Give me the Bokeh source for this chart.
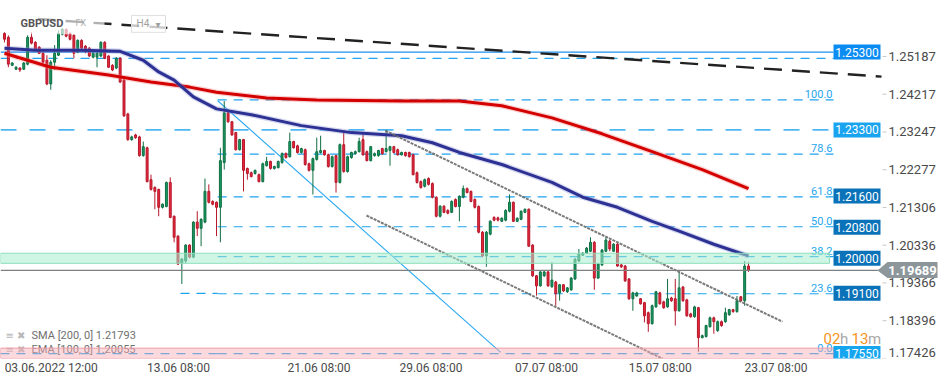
import numpy as np
from bokeh.plotting import figure
from bokeh.models import Range1d, FixedTicker
from bokeh.core.properties import value
from bokeh.embed import file_html
from bokeh.resources import INLINE

# ---------------- data (GBPUSD, H4) ----------------
opens = [1.2578, 1.2568, 1.2496, 1.2486, 1.2489, 1.2486, 1.2499, 1.2568, 1.2555, 1.2543,
         1.2527, 1.2509, 1.2448, 1.2504, 1.2522, 1.2576, 1.2588, 1.2578, 1.2573, 1.2530,
         1.2560, 1.2545, 1.2540, 1.2517, 1.2517, 1.2520, 1.2555, 1.2520, 1.2496, 1.2489,
         1.2514, 1.2458, 1.2371, 1.2305, 1.2317, 1.2312, 1.2264, 1.2284, 1.2202, 1.2182,
         1.2177, 1.2131, 1.2133, 1.2195, 1.2108, 1.2057, 1.1988, 1.1993, 1.2034, 1.2003,
         1.2093, 1.2077, 1.2093, 1.2172, 1.2146, 1.2144, 1.2131, 1.2246, 1.2374, 1.2351,
         1.2323, 1.2279, 1.2305, 1.2231, 1.2220, 1.2218, 1.2215, 1.2197, 1.2238, 1.2249,
         1.2231, 1.2233, 1.2246, 1.2269, 1.2261, 1.2300, 1.2289, 1.2272, 1.2279, 1.2243,
         1.2226, 1.2254, 1.2272, 1.2277, 1.2266, 1.2236, 1.2264, 1.2195, 1.2292, 1.2223,
         1.2259, 1.2269, 1.2274, 1.2305, 1.2274, 1.2251, 1.2264, 1.2264, 1.2282, 1.2274,
         1.2277, 1.2287, 1.2279, 1.2266, 1.2272, 1.2272, 1.2266, 1.2220, 1.2197, 1.2185,
         1.2205, 1.2192, 1.2157, 1.2108, 1.2134, 1.2123, 1.2118, 1.2151, 1.2133, 1.2157,
         1.2179, 1.2172, 1.2151, 1.2133, 1.2067, 1.2006, 1.2062, 1.2105, 1.2104, 1.2095,
         1.2098, 1.2121, 1.2144, 1.2095, 1.2100, 1.2118, 1.2126, 1.2034, 1.1955, 1.1929,
         1.1955, 1.1965, 1.1927, 1.1939, 1.1911, 1.1932, 1.1914, 1.1919, 1.1947, 1.1993,
         1.2008, 1.2013, 1.2018, 1.2041, 1.1949, 1.1983, 1.2018, 1.2044, 1.2018, 1.2036,
         1.1983, 1.1980, 1.1947, 1.1896, 1.1903, 1.1896, 1.1886, 1.1860, 1.1832, 1.1875,
         1.1911, 1.1888, 1.1875, 1.1898, 1.1896, 1.1865, 1.1926, 1.1893, 1.1857, 1.1850,
         1.1873, 1.1796, 1.1799, 1.1824, 1.1847, 1.1814, 1.1837, 1.1837, 1.1855, 1.1868,
         1.1863, 1.1901, 1.1891, 1.1980]
highs = [1.2581, 1.2573, 1.2504, 1.2494, 1.2491, 1.2504, 1.2573, 1.2581, 1.2558, 1.2545,
         1.2530, 1.2522, 1.2509, 1.2548, 1.2586, 1.2591, 1.2591, 1.2581, 1.2576, 1.2563,
         1.2563, 1.2548, 1.2543, 1.2530, 1.2530, 1.2558, 1.2558, 1.2522, 1.2499, 1.2517,
         1.2517, 1.2461, 1.2374, 1.2315, 1.2320, 1.2315, 1.2300, 1.2287, 1.2215, 1.2185,
         1.2179, 1.2141, 1.2197, 1.2208, 1.2110, 1.2059, 1.2000, 1.2036, 1.2036, 1.2095,
         1.2121, 1.2103, 1.2205, 1.2190, 1.2149, 1.2146, 1.2284, 1.2404, 1.2376, 1.2353,
         1.2325, 1.2307, 1.2307, 1.2233, 1.2223, 1.2228, 1.2218, 1.2246, 1.2261, 1.2251,
         1.2238, 1.2251, 1.2272, 1.2272, 1.2323, 1.2302, 1.2292, 1.2284, 1.2282, 1.2246,
         1.2259, 1.2310, 1.2315, 1.2279, 1.2269, 1.2264, 1.2266, 1.2295, 1.2325, 1.2264,
         1.2274, 1.2277, 1.2310, 1.2323, 1.2277, 1.2289, 1.2272, 1.2279, 1.2284, 1.2330,
         1.2289, 1.2289, 1.2282, 1.2274, 1.2274, 1.2274, 1.2269, 1.2223, 1.2200, 1.2205,
         1.2208, 1.2195, 1.2159, 1.2136, 1.2136, 1.2126, 1.2149, 1.2154, 1.2162, 1.2187,
         1.2182, 1.2174, 1.2154, 1.2136, 1.2070, 1.2070, 1.2098, 1.2108, 1.2107, 1.2105,
         1.2126, 1.2164, 1.2146, 1.2105, 1.2123, 1.2128, 1.2128, 1.2036, 1.1957, 1.1967,
         1.1967, 1.1967, 1.1990, 1.1942, 1.1934, 1.1934, 1.1926, 1.1952, 1.2000, 1.2024,
         1.2016, 1.2029, 1.2054, 1.2044, 1.1988, 1.2024, 1.2054, 1.2047, 1.2039, 1.2039,
         1.1985, 1.1983, 1.1949, 1.1914, 1.1914, 1.1898, 1.1888, 1.1863, 1.1881, 1.1916,
         1.1914, 1.1891, 1.1947, 1.1901, 1.1947, 1.1965, 1.1929, 1.1896, 1.1860, 1.1878,
         1.1875, 1.1804, 1.1829, 1.1850, 1.1850, 1.1840, 1.1840, 1.1873, 1.1870, 1.1870,
         1.1903, 1.1903, 1.1993, 1.1990]
lows = [1.2555, 1.2491, 1.2494, 1.2484, 1.2479, 1.2484, 1.2496, 1.2550, 1.2535, 1.2525,
        1.2502, 1.2445, 1.2433, 1.2484, 1.2520, 1.2573, 1.2568, 1.2560, 1.2514, 1.2527,
        1.2537, 1.2527, 1.2517, 1.2514, 1.2491, 1.2517, 1.2512, 1.2489, 1.2481, 1.2486,
        1.2451, 1.2364, 1.2302, 1.2302, 1.2307, 1.2261, 1.2261, 1.2195, 1.2174, 1.2126,
        1.2108, 1.2128, 1.2131, 1.2103, 1.2041, 1.1983, 1.1934, 1.1988, 1.2000, 1.2000,
        1.2057, 1.2031, 1.2090, 1.2141, 1.2136, 1.2057, 1.2041, 1.2228, 1.2348, 1.2315,
        1.2277, 1.2277, 1.2172, 1.2202, 1.2208, 1.2215, 1.2195, 1.2195, 1.2236, 1.2228,
        1.2228, 1.2231, 1.2243, 1.2256, 1.2259, 1.2282, 1.2269, 1.2269, 1.2238, 1.2223,
        1.2164, 1.2251, 1.2269, 1.2264, 1.2233, 1.2233, 1.2169, 1.2192, 1.2220, 1.2220,
        1.2256, 1.2266, 1.2272, 1.2264, 1.2249, 1.2249, 1.2261, 1.2261, 1.2266, 1.2272,
        1.2238, 1.2269, 1.2264, 1.2264, 1.2261, 1.2259, 1.2213, 1.2192, 1.2179, 1.2182,
        1.2187, 1.2154, 1.2105, 1.2105, 1.2116, 1.2113, 1.2116, 1.2131, 1.2095, 1.2154,
        1.2167, 1.2144, 1.2128, 1.2064, 1.2003, 1.1978, 1.2059, 1.2095, 1.2095, 1.2093,
        1.2095, 1.2118, 1.2093, 1.2093, 1.2098, 1.2116, 1.2029, 1.1952, 1.1904, 1.1927,
        1.1952, 1.1927, 1.1924, 1.1878, 1.1891, 1.1914, 1.1911, 1.1916, 1.1944, 1.1990,
        1.2006, 1.2011, 1.2016, 1.1919, 1.1947, 1.1980, 1.2016, 1.2018, 1.2016, 1.1978,
        1.1975, 1.1939, 1.1893, 1.1865, 1.1901, 1.1881, 1.1835, 1.1811, 1.1829, 1.1873,
        1.1881, 1.1870, 1.1873, 1.1888, 1.1827, 1.1863, 1.1888, 1.1850, 1.1847, 1.1847,
        1.1760, 1.1794, 1.1796, 1.1822, 1.1806, 1.1811, 1.1824, 1.1834, 1.1852, 1.1860,
        1.1860, 1.1888, 1.1878, 1.1965]
closes = [1.2563, 1.2499, 1.2502, 1.2491, 1.2484, 1.2502, 1.2568, 1.2553, 1.2537, 1.2527,
          1.2504, 1.2448, 1.2504, 1.2527, 1.2578, 1.2589, 1.2571, 1.2563, 1.2527, 1.2560,
          1.2540, 1.2532, 1.2520, 1.2527, 1.2527, 1.2555, 1.2514, 1.2491, 1.2484, 1.2514,
          1.2453, 1.2366, 1.2305, 1.2312, 1.2310, 1.2264, 1.2287, 1.2197, 1.2177, 1.2172,
          1.2131, 1.2139, 1.2195, 1.2105, 1.2054, 1.1985, 1.1998, 1.2034, 1.2003, 1.2093,
          1.2077, 1.2100, 1.2172, 1.2144, 1.2139, 1.2131, 1.2251, 1.2374, 1.2351, 1.2317,
          1.2279, 1.2305, 1.2226, 1.2218, 1.2210, 1.2226, 1.2197, 1.2243, 1.2249, 1.2231,
          1.2236, 1.2249, 1.2269, 1.2259, 1.2300, 1.2284, 1.2272, 1.2282, 1.2241, 1.2226,
          1.2256, 1.2274, 1.2277, 1.2266, 1.2236, 1.2261, 1.2195, 1.2292, 1.2223, 1.2261,
          1.2272, 1.2274, 1.2300, 1.2266, 1.2251, 1.2287, 1.2269, 1.2277, 1.2269, 1.2282,
          1.2287, 1.2272, 1.2266, 1.2272, 1.2264, 1.2261, 1.2215, 1.2195, 1.2182, 1.2202,
          1.2190, 1.2157, 1.2108, 1.2134, 1.2118, 1.2116, 1.2146, 1.2133, 1.2159, 1.2179,
          1.2169, 1.2146, 1.2131, 1.2067, 1.2006, 1.2067, 1.2095, 1.2098, 1.2098, 1.2103,
          1.2123, 1.2144, 1.2095, 1.2103, 1.2121, 1.2126, 1.2031, 1.1955, 1.1929, 1.1965,
          1.1965, 1.1929, 1.1944, 1.1909, 1.1932, 1.1916, 1.1924, 1.1949, 1.1998, 1.2011,
          1.2013, 1.2026, 1.2041, 1.1949, 1.1985, 1.2021, 1.2047, 1.2024, 1.2036, 1.1980,
          1.1978, 1.1942, 1.1896, 1.1911, 1.1911, 1.1883, 1.1852, 1.1832, 1.1878, 1.1914,
          1.1883, 1.1873, 1.1896, 1.1891, 1.1865, 1.1924, 1.1891, 1.1852, 1.1850, 1.1875,
          1.1796, 1.1801, 1.1827, 1.1847, 1.1837, 1.1837, 1.1827, 1.1860, 1.1868, 1.1863,
          1.1891, 1.1891, 1.1980, 1.1969]

sma_bars = [0, 6, 12, 27, 38, 48, 55, 68, 81, 103, 118, 129, 142, 155, 168, 181, 193]
sma_vals = [1.2527, 1.2509, 1.2491, 1.2471, 1.2453, 1.2440, 1.2427, 1.2412, 1.2407, 1.2404,
            1.2404, 1.2392, 1.2361, 1.2320, 1.2274, 1.2228, 1.2179]
ema_bars = [0, 8, 20, 30, 36, 40, 44, 49, 55, 64, 77, 90, 103, 111, 118, 129, 142, 150,
            159, 168, 175, 184, 193]
ema_vals = [1.2540, 1.2535, 1.2535, 1.2532, 1.2509, 1.2479, 1.2458, 1.2415, 1.2384, 1.2369,
            1.2341, 1.2323, 1.2315, 1.2297, 1.2272, 1.2241, 1.2195, 1.2157, 1.2131, 1.2095,
            1.2070, 1.2036, 1.2006]

key_levels = [1.2530, 1.2330, 1.2160, 1.2080, 1.2000, 1.1910, 1.1755]
key_labels = ["1.25300", "1.23300", "1.21600", "1.20800", "1.20000", "1.19100", "1.17550"]
extra_level = 1.2514
fib_ratios = [100.0, 78.6, 61.8, 50.0, 38.2, 23.6, 0.0]
fib_high, fib_low = 1.2407, 1.1755
last_price = 1.19689
sma_last, ema_last = 1.21793, 1.20055
zone_green = (1.1987, 1.2013)
zone_pink = (1.17424, 1.1769)

resist_bars, resist_vals = [8.6, 227.5], [1.2615, 1.2467]
chan_up_bars, chan_up_vals = [98.8, 201.8], [1.2328, 1.1837]
chan_lo_bars, chan_lo_vals = [93.9, 170.7], [1.2110, 1.1742]
fibdiag_bars, fibdiag_vals = [55.3, 128.7], [1.2405, 1.1758]

xtick_bars = [12.5, 45.5, 82, 111, 141, 170.5, 200.5]
xtick_labels = ["03.06.2022  12:00", "13.06  08:00", "21.06  08:00", "29.06  08:00",
                "07.07  08:00", "15.07  08:00", "23.07  08:00"]
ytick_vals = [1.17426, 1.18396, 1.19366, 1.20336, 1.21306, 1.22277, 1.23247, 1.24217, 1.25187]

# ---------------- layout helpers (screen px of the reference -> data) ----------------
def X(px):
    return (px - 4.0) / 3.855

def Y(py):
    return 1.266262 - py / 3912.0

FONT = "Roboto"
o, h, l, c = map(np.array, (opens, highs, lows, closes))
bars = np.arange(len(o))
up = c >= o

p = figure(width=941, height=377, output_backend="svg", toolbar_location=None,
           x_range=Range1d(X(0), X(941)), y_range=Range1d(Y(360), Y(0)),
           y_axis_location=None,
           min_border_left=0, min_border_top=0, min_border_right=0, min_border_bottom=17,
           background_fill_color="white", border_fill_color="white", outline_line_color=None)
p.xgrid.visible = False
p.ygrid.visible = False

# time axis
p.xaxis.ticker = FixedTicker(ticks=xtick_bars)
p.xaxis.major_label_overrides = dict(zip(xtick_bars, xtick_labels))
p.xaxis.axis_line_color = None
p.xaxis.major_tick_line_color = None
p.xaxis.minor_tick_line_color = None
p.xaxis.major_tick_out = 0
p.xaxis.major_tick_in = 0
p.xaxis.major_label_standoff = 2
p.xaxis.major_label_text_font = FONT
p.xaxis.major_label_text_font_size = "12px"
p.xaxis.major_label_text_color = "#4a4a4a"

# price scale on the right (inside the canvas so the live-price tag can sit over it)
p.segment(x0=X(882), x1=X(886), y0=ytick_vals, y1=ytick_vals, line_color="#c8c8c8", line_width=1)
p.text(x=X(888), y=ytick_vals[1:], text=["%.5f" % v for v in ytick_vals[1:]], text_baseline="middle",
       text_color="#4a4a4a", text_font_size="13px", text_font=value(FONT))
p.text(x=X(888), y=ytick_vals[:1], text=["%.5f" % ytick_vals[0]], text_baseline="middle",
       y_offset=-6, text_color="#4a4a4a", text_font_size="13px", text_font=value(FONT))

# full-width level lines
p.segment(x0=X(0), x1=X(833), y0=key_levels[0], y1=key_levels[0], line_color="#1f8ef0", line_width=1.3)
p.segment(x0=X(0), x1=X(833), y0=extra_level, y1=extra_level, line_color="#22a3f0",
          line_width=1.2, line_dash="9 7")
p.segment(x0=X(0), x1=X(833), y0=key_levels[1], y1=key_levels[1], line_color="#4db6f3",
          line_width=1.6, line_dash="16 13")

# fibonacci levels
fib_levels = [fib_low + r / 100.0 * (fib_high - fib_low) for r in fib_ratios]
p.segment(x0=fibdiag_bars[0], x1=X(833), y0=fib_levels, y1=fib_levels, line_color="#1ea2ef",
          line_width=1.2, line_dash="9 7")
p.segment(x0=X(180), x1=fibdiag_bars[0], y0=key_levels[5], y1=key_levels[5], line_color="#1ea2ef",
          line_width=1.2, line_dash="9 7")
p.segment(x0=X(0), x1=fibdiag_bars[0], y0=key_levels[6], y1=key_levels[6], line_color="#1ea2ef",
          line_width=1.2, line_dash="9 7")
p.line(fibdiag_bars, fibdiag_vals, line_color="#2aa8f2", line_width=1.1)
p.text(x=X(832), y=fib_levels, text=["%.1f" % r for r in fib_ratios], text_align="right",
       text_baseline="bottom", y_offset=-2, text_color="#27a6ee", text_font_size="11px",
       text_font=value(FONT))

# indicator legend (under pink zone)
p.text(x=X(5), y=[Y(337), Y(351)], text=["\u2261 \u2716", "\u2261 \u2716"], text_baseline="middle",
       text_color="#b8b8b8", text_font_size="10px", text_font=value("DejaVu Sans"))
p.text(x=X(31), y=[Y(337), Y(351)],
       text=["SMA [200,  0] %.5f" % sma_last, "EMA [100,  0] %.5f" % ema_last],
       text_baseline="middle", text_color="#6f6f6f", text_font_size="11px", text_font=value(FONT))

# candles
wick_col = np.where(up, "#0f6e43", "#b5182b")
p.segment(x0=bars, x1=bars, y0=l, y1=h, line_color=wick_col, line_width=1)
p.vbar(x=bars, width=0.5, top=np.maximum(o, c), bottom=np.minimum(o, c),
       fill_color=np.where(up, "#1a9a60", "#e8283c"), line_color=wick_col, line_width=1)

# moving averages
p.line(sma_bars, sma_vals, line_color="#f07a7a", line_width=5.5, line_alpha=0.35)
p.line(sma_bars, sma_vals, line_color="#d40000", line_width=3)
p.line(ema_bars, ema_vals, line_color="#8a8ed0", line_width=5.5, line_alpha=0.35)
p.line(ema_bars, ema_vals, line_color="#2d3193", line_width=3)

# trend lines
p.line(resist_bars, resist_vals, line_color="#222222", line_width=2.4, line_dash="18 10")
p.line(chan_up_bars, chan_up_vals, line_color="#6b6b6b", line_width=2, line_dash="3 1", line_alpha=0.9)
p.line(chan_lo_bars, chan_lo_vals, line_color="#6b6b6b", line_width=2, line_dash="3 1", line_alpha=0.9)

# zones
p.quad(left=X(0), right=X(829), bottom=zone_green[0], top=zone_green[1], fill_color="#a8ecd0",
       fill_alpha=0.55, line_color="#8fdfbd", line_width=1)
p.quad(left=X(0), right=X(833), bottom=zone_pink[0], top=zone_pink[1], fill_color="#f6aab3",
       fill_alpha=0.45, line_color="#f19aa4", line_width=1)

# current price line
p.segment(x0=X(0), x1=X(878), y0=last_price, y1=last_price, line_color="#808080", line_width=1.2)

# level boxes
box_colors = ["#0b8cf2", "#1aa3ef", "#0a72b8", "#0a72b8", "#0a72b8", "#0a72b8", "#16a6ef"]
p.rect(x=X(856.5), y=key_levels, width=47, height=15, width_units="screen", height_units="screen",
       fill_color=box_colors, line_color=None)
p.text(x=X(856.5), y=key_levels, text=key_labels, text_align="center", text_baseline="middle",
       text_color="white", text_font_size="12px", text_font=value(FONT))

# header
p.quad(left=X(14), right=X(104), bottom=Y(34), top=Y(12), fill_color="white", fill_alpha=0.65,
       line_color=None)
p.text(x=X(20), y=Y(23), text=["GBPUSD"], text_baseline="middle", text_color="#555555",
       text_font_size="11px", text_font_style="bold", text_font=value(FONT))
p.text(x=X(75), y=Y(23), text=["FX"], text_baseline="middle", text_color="#b0b0b0",
       text_font_size="9px", text_font=value(FONT))
p.quad(left=X(131), right=X(165), bottom=Y(32), top=Y(15), fill_color="white", fill_alpha=0.75,
       line_color="#dedede", line_width=1)
p.text(x=X(136), y=Y(23.5), text=["H4"], text_baseline="middle", text_color="#a0a0a0",
       text_font_size="10px", text_font=value(FONT))
p.text(x=X(155), y=Y(24), text=["\u25be"], text_baseline="middle", text_color="#a0a0a0",
       text_font_size="10px", text_font=value("DejaVu Sans"))

# candle countdown
for txt, px, col in [("02", 823, "#f7941d"), ("h", 839.5, "#a8a8a8"), ("13", 851, "#f7941d"),
                     ("m", 867.5, "#a8a8a8")]:
    p.text(x=X(px), y=Y(340), text=[txt], text_baseline="middle", text_color=col,
           text_font_size="15px", text_font=value(FONT))

# live price tag over the price scale
p.patch(x=[X(877), X(887), X(937), X(937), X(887)],
        y=[last_price, Y(263), Y(263), Y(279), Y(279)],
        fill_color="#8c969b", line_color=None)
p.text(x=X(912), y=[last_price], text=["%.5f" % last_price], text_align="center",
       text_baseline="middle", text_color="white", text_font_size="13px",
       text_font_style="bold", text_font=value(FONT))

open("out.html", "w").write(file_html(p, INLINE))
